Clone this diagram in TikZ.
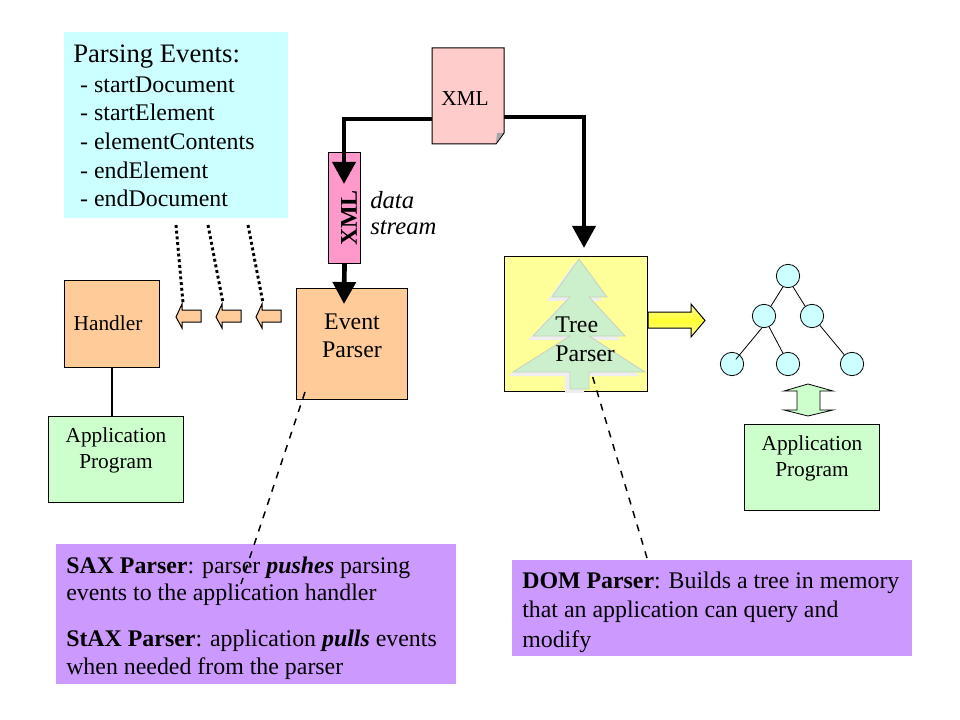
\documentclass[tikz,border=0pt]{standalone}
\usepackage{fontspec}
\setmainfont{Liberation Serif}
\usetikzlibrary{arrows.meta}
\definecolor{cyanbox}{HTML}{CCFFFF}
\definecolor{orangebox}{HTML}{FFCC99}
\definecolor{greenbox}{HTML}{CCFFCC}
\definecolor{yellowbox}{HTML}{FFFF99}
\definecolor{purplebox}{HTML}{CC99FF}
\definecolor{pinkdoc}{HTML}{FFCCCC}
\definecolor{pinkstrip}{HTML}{FF99CC}
\definecolor{treegreen}{HTML}{CCF0CC}
\definecolor{treeedge}{HTML}{C8D0C0}
\definecolor{treeshadow}{HTML}{EEEEEE}
\tikzset{
  x=0.75pt,y=-0.75pt,
  px/.style={font=\fontsize{17.9}{21}\selectfont},
  lab/.style={font=\fontsize{16}{19.5}\selectfont},
  plainbox/.style={draw=black,line width=0.75pt,anchor=north west,inner sep=0pt},
  textbox/.style={anchor=north west,inner sep=0pt},
  bigarrow/.style={line width=3.5pt,-{Triangle[length=16.5pt,width=17pt]}},
  dotline/.style={line width=2.2pt,dash pattern=on 2.2pt off 2.1pt},
  dashline/.style={line width=1.1pt,dash pattern=on 5.25pt off 5.25pt},
  leafline/.style={line width=0.6pt},
  treenode/.style={circle,draw=black,line width=0.6pt,fill=cyanbox,minimum size=17.5pt,inner sep=0pt},
  outlinearrow/.style={draw=black,line width=0.75pt,fill=orangebox},
}
\begin{document}
\begin{tikzpicture}
\useasboundingbox (0,0) rectangle (960,720);
% top left events
\node[textbox,fill=cyanbox,minimum width=168pt,minimum height=139.5pt] (events) at (64,32) {};
\node[anchor=base west,inner sep=0pt,font=\fontsize{20}{20}\selectfont] (evtitle) at (73,63) {Parsing Events:};
\node[anchor=base west,inner sep=0pt,px] (e1) at (74,93) {\ - startDocument};
\node[anchor=base west,inner sep=0pt,px] (e2) at (74,121) {\ - startElement};
\node[anchor=base west,inner sep=0pt,px] (e3) at (74,150) {\ - elementContents};
\node[anchor=base west,inner sep=0pt,px] (e4) at (74,179) {\ - endElement};
\node[anchor=base west,inner sep=0pt,px] (e5) at (74,207) {\ - endDocument};
% boxes
\node[plainbox,fill=orangebox,minimum width=71.25pt,minimum height=65.25pt] (handler) at (64,280) {};
\node[lab,inner sep=0pt] (handlert) at (108,323) {Handler};
\node[plainbox,fill=greenbox,minimum width=101.25pt,minimum height=64.5pt] (appl) at (48,416) {};
\node[lab,inner sep=0pt,align=center] at (116,450) {Application\\Program};
\draw[line width=1.1pt] (handler.south -| 112,0) -- (appl.north -| 112,0);
\node[plainbox,fill=orangebox,minimum width=83.25pt,minimum height=83.25pt] (event) at (296,288) {};
\node[px,inner sep=0pt,align=center] at (352,336) {Event\\Parser};
\node[plainbox,fill=yellowbox,minimum width=107.25pt,minimum height=101.25pt] (tree) at (504,256) {};
% tree shadow and shape
\begin{scope}[xshift=-3.75pt,yshift=-3pt]
\fill[treeshadow] (579,259)--(607,297)--(589,297)--(625,336)--(589,336)--(645,372)--(589,372)--(589,389)--(570,389)--(570,372)--(513,372)--(570,336)--(533,336)--(570,297)--(552,297)--cycle;
\end{scope}
\filldraw[fill=treegreen,draw=treeedge,line width=0.6pt] (579,259)--(607,297)--(589,297)--(625,336)--(589,336)--(645,372)--(589,372)--(589,389)--(570,389)--(570,372)--(513,372)--(570,336)--(533,336)--(570,297)--(552,297)--cycle;
\node[px,inner sep=0pt,anchor=west] at (555,325) {Tree};
\node[px,inner sep=0pt,anchor=west] at (555,354) {Parser};
\node[plainbox,fill=greenbox,minimum width=101.25pt,minimum height=64.5pt] (appr) at (744,424) {};
\node[lab,inner sep=0pt,align=center] at (812,458) {Application\\Program};
% XML doc
\path[draw=black,line width=0.75pt,fill=pinkdoc] (432,48)--(504,48)--(504,133)--(496,144)--(432,144)--cycle;
\fill[black!35] (496,143)--(497,133)--(503,133)--cycle;
\coordinate (docL) at (432,119);
\coordinate (docR) at (504,117);
\node[lab,inner sep=0pt] (docT) at (465,99) {XML};
% strip
\node[plainbox,fill=pinkstrip,minimum width=24pt,minimum height=83.25pt] (strip) at (328,152) {};
\node[inner sep=0pt,rotate=90,font=\fontsize{18}{18}\selectfont\bfseries] at (349,218) {XML};
\node[anchor=north west,inner sep=0pt,align=left,font=\fontsize{18.5}{19.5}\selectfont\itshape] at (370,191.5) {data\\stream};
% thick arrows
\draw[bigarrow] (docL) -- (344,119) -- (344,184);
\draw[bigarrow] (strip.south) -- (344,304);
\draw[bigarrow] (docR) -- (584,117) -- (584,248);
% dotted
\coordinate (d1) at (176,225); \coordinate (d2) at (208,225); \coordinate (d3) at (248,225);
\coordinate (a1) at (183,303); \coordinate (a2) at (223,303); \coordinate (a3) at (263,303);
\draw[dotline] (d1)--(a1); \draw[dotline] (d2)--(a2); \draw[dotline] (d3)--(a3);
\foreach \x in {0,40,80}{
\begin{scope}[shift={(\x,0)}]
\path[outlinearrow] (176,317)--(182,304)--(182,310)--(201,310)--(201,322)--(182,322)--(182,328)--cycle;
\end{scope}}
% yellow arrow
\path[draw=black,line width=0.75pt,top color=yellowbox,bottom color=yellowbox,middle color=yellow!80!white] (648,312)--(691,312)--(691,304)--(705,320.5)--(691,337)--(691,328)--(648,328)--cycle;
% tree
\node[treenode] (n0) at (788,276) {};
\node[treenode] (n1) at (764,316) {};
\node[treenode] (n2) at (812,316) {};
\node[treenode] (n3) at (732,364) {};
\node[treenode] (n4) at (788,364) {};
\node[treenode] (n5) at (852,364) {};
\draw[leafline] (n0.-115) -- (n1.55);
\draw[leafline] (n0.-65) -- (n2.125);
\draw[leafline,shorten >=4.5pt] (n1.-100) -- (n3.center);
\draw[leafline] (n1.-65) -- (n4.115);
\draw[leafline] (n2.-50) -- (n5.130);
% double arrow
\path[draw=black,line width=0.6pt,fill=greenbox] (808,384)--(833,391)--(820,391)--(820,410)--(833,410)--(808,416)--(784,410)--(797,410)--(797,391)--(784,391)--cycle;
% purple
\node[textbox,fill=purplebox,minimum width=300pt,minimum height=105pt] (sax) at (56,544) {};
\node[anchor=base west,inner sep=0pt,px] at (66,573) {\textbf{SAX Parser}: parser \textbf{\textit{pushes}} parsing};
\node[anchor=base west,inner sep=0pt,px] at (66,600) {events to the application handler};
\node[anchor=base west,inner sep=0pt,px] at (66,646) {\textbf{StAX Parser}: application \textbf{\textit{pulls}} events};
\node[anchor=base west,inner sep=0pt,px] at (66,674) {when needed from the parser};
\node[textbox,fill=purplebox,minimum width=300pt,minimum height=72pt] (dom) at (512,560) {};
\node[anchor=base west,inner sep=0pt,px] at (522,588) {\textbf{DOM Parser}: Builds a tree in memory};
\node[anchor=base west,inner sep=0pt,px] at (522,617) {that an application can query and};
\node[anchor=base west,inner sep=0pt,px] at (522,647) {modify};
% dashed
\coordinate (s1) at (305,392); \coordinate (s2) at (241,584);
\coordinate (t1) at (592.7,377); \coordinate (t2) at (647,558);
\draw[dashline] (s1)--(s2);
\draw[dashline] (t1)--(t2);
\end{tikzpicture}
\end{document}
